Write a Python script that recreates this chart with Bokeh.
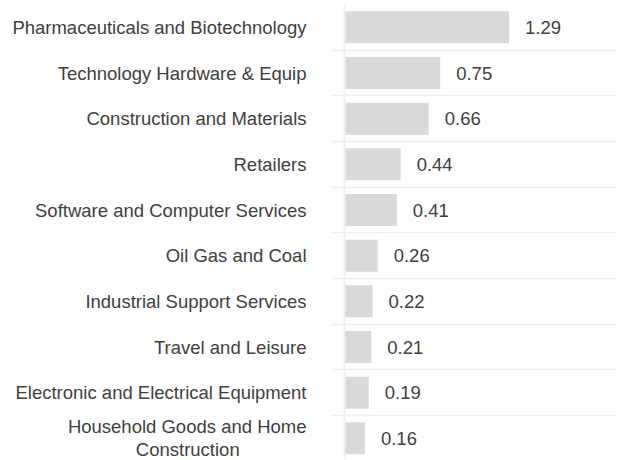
from bokeh.plotting import figure
from bokeh.models import ColumnDataSource, Range1d, FixedTicker, Span
from bokeh.core.properties import value
from bokeh.embed import file_html
from bokeh.resources import INLINE

categories = [
    "Pharmaceuticals and Biotechnology",
    "Technology Hardware & Equip",
    "Construction and Materials",
    "Retailers",
    "Software and Computer Services",
    "Oil Gas and Coal",
    "Industrial Support Services",
    "Travel and Leisure",
    "Electronic and Electrical Equipment",
    "Household Goods and Home\nConstruction",
]
values = [1.29, 0.75, 0.66, 0.44, 0.41, 0.26, 0.22, 0.21, 0.19, 0.16]

idx = list(range(len(categories)))
src = ColumnDataSource(dict(
    y=idx,
    v=values,
    lab=[f"{v:.2f}" for v in values],
))

FONT = "Liberation Sans"
TXT = "#404040"
FS = "18.5px"

p = figure(
    width=617, height=459,
    output_backend="svg", toolbar_location=None,
    x_range=Range1d(-0.102, 2.14),
    y_range=Range1d(9.463, -0.5),
    min_border_left=331, min_border_right=0,
    min_border_top=4, min_border_bottom=0,
    outline_line_color=None,
)

p.hbar(y="y", left=0, right="v", height=0.7, source=src,
       fill_color="#d9d9d9", line_color=None)

p.text(x="v", y="y", text="lab", source=src, x_offset=16,
       text_align="left", text_baseline="middle",
       text_font=value(FONT), text_font_size=FS, text_color=TXT)

p.xaxis.visible = False
p.xgrid.visible = False


def centre_lines(label):
    # pad the shorter lines with non-breaking spaces so the
    # right-aligned block reads as centred lines
    lines = label.split("\n")
    if len(lines) == 1:
        return label
    longest = max(len(l) for l in lines)
    return "\n".join(l + "\u00a0" * int(round((longest - len(l)) * 1.08)) for l in lines)


yax = p.yaxis[0]
yax.ticker = FixedTicker(ticks=idx)
yax.major_label_overrides = {i: centre_lines(c) for i, c in zip(idx, categories)}
yax.axis_line_color = None
yax.major_tick_line_color = None
yax.minor_tick_line_color = None
yax.major_tick_out = 0
yax.major_tick_in = 0
yax.major_label_standoff = 25
yax.major_label_text_font = FONT
yax.major_label_text_font_size = FS
yax.major_label_text_color = TXT
yax.major_label_text_line_height = 1.05

p.ygrid[0].ticker = FixedTicker(ticks=[i - 0.5 for i in idx])
p.ygrid[0].grid_line_color = "#f0f0f0"
p.ygrid[0].grid_line_width = 1.5

p.add_layout(Span(location=0, dimension="height", line_color="#f0f0f0", line_width=2))

open("out.html", "w").write(file_html(p, INLINE))
